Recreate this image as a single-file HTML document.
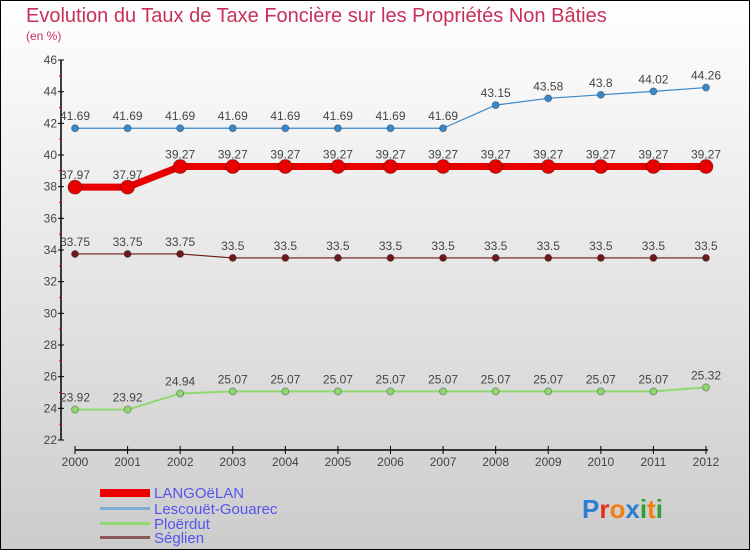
<!DOCTYPE html>
<html><head><meta charset="utf-8"><style>
body{margin:0}
#c{width:750px;height:550px;position:relative;font-family:"Liberation Sans",sans-serif}
</style></head><body>
<div id="c">
<svg id="s" width="750" height="550" xmlns="http://www.w3.org/2000/svg">
<defs><linearGradient id="bg" x1="0" y1="0" x2="0" y2="1"><stop offset="0" stop-color="#ffffff"/><stop offset="1" stop-color="#cccccc"/></linearGradient></defs>
<rect x="0.5" y="0.5" width="749" height="549" fill="url(#bg)" stroke="#000"/>
<text x="26" y="22" font-size="20" fill="#c8305a">Evolution du Taux de Taxe Foncière sur les Propriétés Non Bâties</text>
<text x="26" y="40" font-size="12" fill="#c8305a">(en %)</text>
<g id="axes"></g><g id="series"></g>
<g>
<rect x="100" y="489" width="50" height="8" fill="#e00"/>
<text x="154" y="498" font-size="15" fill="#5555ee">LANGOëLAN</text>
<rect x="100" y="507" width="50" height="3" fill="#7aaed8"/>
<text x="154" y="514" font-size="15" fill="#5555ee">Lescouët-Gouarec</text>
<rect x="100" y="522" width="50" height="3" fill="#90d870"/>
<text x="154" y="529" font-size="15" fill="#5555ee">Ploërdut</text>
<rect x="100" y="536" width="50" height="3" fill="#8a5a5a"/>
<text x="154" y="543" font-size="15" fill="#5555ee">Séglien</text>
</g>
<text x="582" y="518" font-size="26" font-weight="bold"><tspan fill="#2a7fd0">P</tspan><tspan fill="#e03020">r</tspan><tspan fill="#f08010">o</tspan><tspan fill="#2a7fd0">x</tspan><tspan fill="#30a030">i</tspan><tspan fill="#f08010">t</tspan><tspan fill="#30a030">i</tspan></text>
</svg></div>
<script>
const years=["2000","2001","2002","2003","2004","2005","2006","2007","2008","2009","2010","2011","2012"];
const langoelan=[37.97,37.97,39.27,39.27,39.27,39.27,39.27,39.27,39.27,39.27,39.27,39.27,39.27];
const lescouet=[41.69,41.69,41.69,41.69,41.69,41.69,41.69,41.69,43.15,43.58,43.8,44.02,44.26];
const ploerdut=[23.92,23.92,24.94,25.07,25.07,25.07,25.07,25.07,25.07,25.07,25.07,25.07,25.32];
const seglien=[33.75,33.75,33.75,33.5,33.5,33.5,33.5,33.5,33.5,33.5,33.5,33.5,33.5];
const yTicks=[22,24,26,28,30,32,34,36,38,40,42,44,46];
const NS="http://www.w3.org/2000/svg";
const X=i=>75+i*(706-75)/(years.length-1);
const Y=v=>440-(v-22)*380/24;
function mk(t,a,p){const e=document.createElementNS(NS,t);for(const k in a)e.setAttribute(k,a[k]);p.appendChild(e);return e;}
const ax=document.getElementById('axes');
let l=mk('line',{x1:61,y1:60,x2:61,y2:440,stroke:'#000','stroke-width':1.5},ax);


yTicks.forEach(v=>{
 const t=mk('line',{x1:58,x2:64,y1:Y(v),y2:Y(v),stroke:'#000'},ax);
 
 
 const r=mk('line',{x1:59,x2:62,y1:Y(v+1),y2:Y(v+1),stroke:'#e00'},ax);
 if(v===46)r.remove();
 
 
 const tx=mk('text',{x:57,y:Y(v)+4,'font-size':12,'text-anchor':'end',fill:'#444'},ax);
 tx.textContent=v;
 
 
});
l=mk('line',{x1:75,y1:450,x2:708,y2:450,stroke:'#000','stroke-width':1.5},ax);


years.forEach((y,i)=>{
 const t=mk('line',{x1:X(i),x2:X(i),y1:446,y2:454,stroke:'#000'},ax);
 
 
 const tx=mk('text',{x:X(i),y:466,'font-size':12,'text-anchor':'middle',fill:'#444'},ax);
 tx.textContent=y;
 
 
});
const sg=document.getElementById('series');
function draw(name,vals,col,w,r){
 const g=mk('g',{},sg);
 
 
 const p=mk('polyline',{points:vals.map((v,i)=>X(i)+','+Y(v)).join(' '),fill:'none',stroke:col,'stroke-width':w},g);
 
 
 vals.forEach((v,i)=>{
  const c=mk('circle',{cx:X(i),cy:Y(v),r:r,fill:col,stroke:'rgba(0,0,0,0.3)'},g);
  
  
  const t=mk('text',{x:X(i),y:Y(v)-8,'font-size':12,'text-anchor':'middle',fill:'#444'},g);
  t.textContent=String(v);
  
  
 });
}
draw('seglien',seglien,'#6a1a1a',1.2,3.5);
draw('ploerdut',ploerdut,'#90d870',2,3.5);
draw('lescouet',lescouet,'#3a88c8',1.2,3.5);
draw('langoelan',langoelan,'#e80000',7,7);
</script>
</body></html>
